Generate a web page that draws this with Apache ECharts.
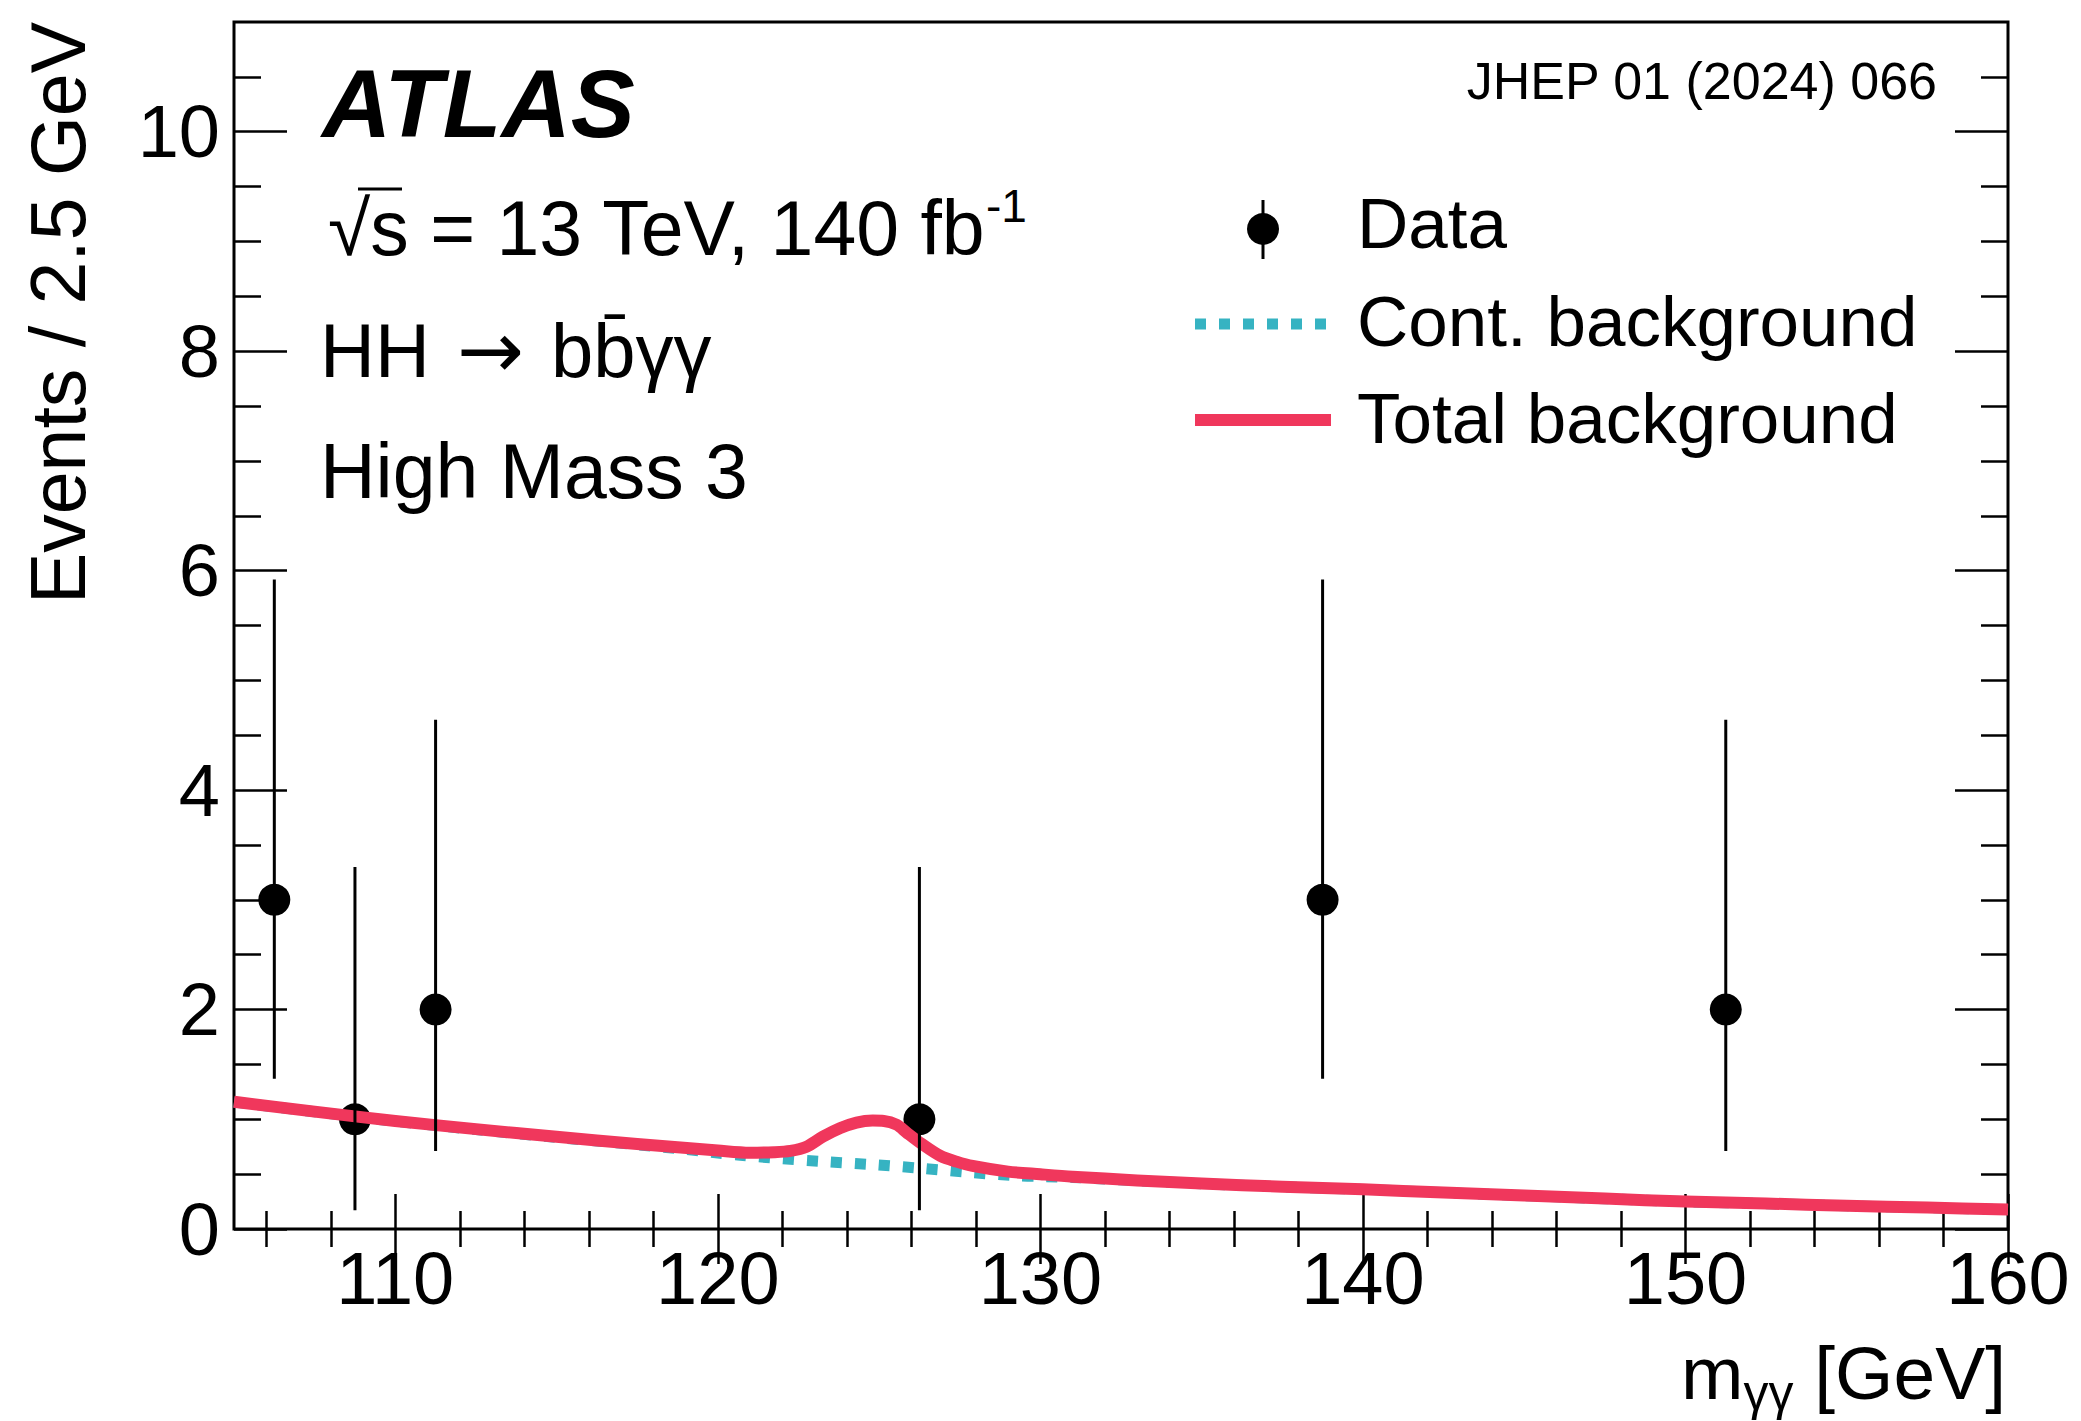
<!DOCTYPE html>
<html><head><meta charset="utf-8">
<script src="https://cdn.jsdelivr.net/npm/echarts@6/dist/echarts.min.js"></script>
<style>html,body{margin:0;padding:0;background:#fff}#c{width:2081px;height:1421px}</style>
</head><body><div id="c"></div>
<script>
// ---- data ----
const massBins   = [106.25, 108.75, 111.25, 126.25, 138.75, 151.25];
const dataEvents = [3, 1, 2, 1, 3, 2];
const errLow     = [1.37, 0.17, 0.71, 0.17, 1.37, 0.71];
const errHigh    = [5.92, 3.30, 4.64, 3.30, 5.92, 4.64];

const totalX = [105, 107.5, 110, 112.5, 115, 117.5, 120, 121, 121.75, 122.25, 122.75, 123.25, 123.8, 124.3, 124.8, 125.15, 125.55, 125.85, 126.3, 126.9, 127.4, 127.9, 129, 130, 131, 133, 135, 137.5, 140, 142.5, 145, 147.5, 150, 152.5, 155, 157.5, 160];
const totalY = [1.16, 1.07, 0.985, 0.91, 0.84, 0.775, 0.715, 0.695, 0.70, 0.712, 0.75, 0.84, 0.92, 0.97, 0.988, 0.985, 0.95, 0.88, 0.78, 0.666, 0.614, 0.575, 0.523, 0.499, 0.477, 0.443, 0.415, 0.385, 0.362, 0.332, 0.305, 0.277, 0.25, 0.232, 0.212, 0.195, 0.178];

const contX = [105, 107.5, 110, 112.5, 115, 117.5, 119, 120, 120.7, 122, 123.4, 124.9, 126.3, 127.7, 129.2, 130, 131, 133, 135, 137.5, 140, 142.5, 145, 147.5, 150, 152.5, 155, 157.5, 160];
const contY = [1.158, 1.068, 0.982, 0.906, 0.835, 0.768, 0.725, 0.693, 0.672, 0.64, 0.612, 0.585, 0.553, 0.518, 0.486, 0.478, 0.47, 0.44, 0.413, 0.384, 0.361, 0.331, 0.304, 0.276, 0.249, 0.231, 0.211, 0.194, 0.177];

const xMajorTicks = [110, 120, 130, 140, 150, 160];
const xMinorTicks = [106, 108, 112, 114, 116, 118, 122, 124, 126, 128, 132, 134, 136, 138, 142, 144, 146, 148, 152, 154, 156, 158];
const yMajorTicks = [0, 2, 4, 6, 8, 10];
const yMinorTicks = [0.5, 1, 1.5, 2.5, 3, 3.5, 4.5, 5, 5.5, 6.5, 7, 7.5, 8.5, 9, 9.5, 10.5];

// ---- style ----
const FONT = '"Liberation Sans", Arial, Helvetica, sans-serif';
const RED = '#f0375c';
const CYAN = '#36b3c2';

function xAx(pos, values, len, labels) {
  return {
    type: 'value', gridIndex: 0, min: 105, max: 160, position: pos,
    axisLine: { show: false }, splitLine: { show: false },
    axisTick: { show: true, inside: true, length: len, customValues: values, lineStyle: { color: '#000', width: 2.5 } },
    axisLabel: labels ? { show: true, customValues: values, fontSize: 74, fontFamily: FONT, color: '#000', margin: 12 } : { show: false }
  };
}
function yAx(pos, values, len, labels) {
  return {
    type: 'value', gridIndex: 0, min: 0, max: 11, position: pos,
    axisLine: { show: false }, splitLine: { show: false },
    axisTick: { show: true, inside: true, length: len, customValues: values, lineStyle: { color: '#000', width: 2.5 } },
    axisLabel: labels ? { show: true, customValues: values, fontSize: 74, fontFamily: FONT, color: '#000', margin: 14 } : { show: false }
  };
}

const chart = echarts.init(document.getElementById('c'), null, { renderer: 'svg' });

const option = {
  animation: false,
  backgroundColor: '#fff',
  grid: { left: 234, right: 73, top: 22, bottom: 192, show: true, borderColor: '#000', borderWidth: 3, backgroundColor: 'transparent' },
  xAxis: [
    xAx('bottom', xMajorTicks, 35, true),
    xAx('bottom', xMinorTicks, 18, false),
    xAx('top', xMajorTicks, 35, false),
    xAx('top', xMinorTicks, 18, false)
  ],
  yAxis: [
    yAx('left', yMajorTicks, 53, true),
    yAx('left', yMinorTicks, 27, false),
    yAx('right', yMajorTicks, 53, false),
    yAx('right', yMinorTicks, 27, false)
  ],
  series: [
    {
      type: 'line', name: 'Cont. background', xAxisIndex: 0, yAxisIndex: 0,
      data: contX.map((x, i) => [x, contY[i]]),
      smooth: 0.3, symbol: 'none', silent: true, z: 2,
      lineStyle: { color: CYAN, width: 11, type: [11, 13], cap: 'butt' }
    },
    {
      type: 'scatter', name: 'Data', xAxisIndex: 0, yAxisIndex: 0,
      data: massBins.map((x, i) => [x, dataEvents[i]]),
      symbol: 'circle', symbolSize: 32, itemStyle: { color: '#000', opacity: 1 }, z: 3, silent: true
    },
    {
      type: 'line', name: 'Total background', xAxisIndex: 0, yAxisIndex: 0,
      data: totalX.map((x, i) => [x, totalY[i]]),
      smooth: 0.3, symbol: 'none', silent: true, z: 4,
      lineStyle: { color: RED, width: 12, cap: 'butt', join: 'round' }
    },
    {
      type: 'custom', name: 'Data errors', xAxisIndex: 0, yAxisIndex: 0,
      data: massBins.map((x, i) => [x, errLow[i], errHigh[i]]),
      encode: { x: 0, y: [1, 2] }, z: 5, silent: true,
      renderItem: function (params, api) {
        const p1 = api.coord([api.value(0), api.value(1)]);
        const p2 = api.coord([api.value(0), api.value(2)]);
        return { type: 'line', shape: { x1: p1[0], y1: p1[1], x2: p2[0], y2: p2[1] }, style: { stroke: '#000', lineWidth: 3 } };
      }
    }
  ],
  graphic: [
    // axis titles
    { type: 'text', x: 58, y: 22, rotation: Math.PI / 2, z: 100,
      style: { text: 'Events / 2.5 GeV', font: '77px ' + FONT, fill: '#000', align: 'right', verticalAlign: 'middle', textAlign: 'right', textVerticalAlign: 'middle' } },
    { type: 'text', x: 2006, y: 1373, z: 100,
      style: { text: '{m|m}{s|γγ}{m| [GeV]}', fill: '#000', align: 'right', verticalAlign: 'middle', textAlign: 'right', textVerticalAlign: 'middle',
        rich: { m: { font: '75px ' + FONT, lineHeight: 90, fill: '#000' }, s: { font: '50px ' + FONT, lineHeight: 50, verticalAlign: 'bottom', fill: '#000' } } } },
    // labels
    { type: 'text', x: 322, y: 103, z: 100,
      style: { text: 'ATLAS', font: 'italic bold 96px ' + FONT, fill: '#000', align: 'left', verticalAlign: 'middle', textAlign: 'left', textVerticalAlign: 'middle' } },
    { type: 'text', x: 1937, y: 81, z: 100,
      style: { text: 'JHEP 01 (2024) 066', font: '52px ' + FONT, fill: '#000', align: 'right', verticalAlign: 'middle', textAlign: 'right', textVerticalAlign: 'middle' } },
    { type: 'text', x: 328, y: 228, z: 100,
      style: { text: '{m|√s = 13 TeV, 140 fb}{p|-1}', fill: '#000', align: 'left', verticalAlign: 'middle', textAlign: 'left', textVerticalAlign: 'middle',
        rich: { m: { font: '77px ' + FONT, lineHeight: 90, fill: '#000' }, p: { font: '46px ' + FONT, lineHeight: 46, verticalAlign: 'top', fill: '#000' } } } },
    { type: 'line', z: 100, shape: { x1: 358, y1: 189, x2: 402, y2: 189 }, style: { stroke: '#000', lineWidth: 3 } },
    { type: 'text', x: 320, y: 350, z: 100,
      style: { text: '{a|HH }{r|→}{a| bb\u0304γγ}', fill: '#000', align: 'left', verticalAlign: 'middle', textAlign: 'left', textVerticalAlign: 'middle',
        rich: { a: { font: '76px ' + FONT, lineHeight: 90, fill: '#000' }, r: { font: '80px "DejaVu Sans", sans-serif', lineHeight: 90, padding: [0, 6, 0, 6], fill: '#000' } } } },
    { type: 'text', x: 320, y: 471, z: 100,
      style: { text: 'High Mass 3', font: '77px ' + FONT, fill: '#000', align: 'left', verticalAlign: 'middle', textAlign: 'left', textVerticalAlign: 'middle' } },
    // legend
    { type: 'line', z: 100, shape: { x1: 1263, y1: 200, x2: 1263, y2: 259 }, style: { stroke: '#000', lineWidth: 3 } },
    { type: 'circle', z: 100, shape: { cx: 1263, cy: 229, r: 16 }, style: { fill: '#000' } },
    { type: 'line', z: 100, shape: { x1: 1195, y1: 324, x2: 1327, y2: 324 }, style: { stroke: CYAN, lineWidth: 11, lineDash: [11, 13], lineCap: 'butt' } },
    { type: 'line', z: 100, shape: { x1: 1195, y1: 420, x2: 1331, y2: 420 }, style: { stroke: RED, lineWidth: 12 } },
    { type: 'text', x: 1357, y: 223, z: 100,
      style: { text: 'Data', font: '71px ' + FONT, fill: '#000', align: 'left', verticalAlign: 'middle', textAlign: 'left', textVerticalAlign: 'middle' } },
    { type: 'text', x: 1357, y: 321, z: 100,
      style: { text: 'Cont. background', font: '71px ' + FONT, fill: '#000', align: 'left', verticalAlign: 'middle', textAlign: 'left', textVerticalAlign: 'middle' } },
    { type: 'text', x: 1357, y: 418, z: 100,
      style: { text: 'Total background', font: '71px ' + FONT, fill: '#000', align: 'left', verticalAlign: 'middle', textAlign: 'left', textVerticalAlign: 'middle' } }
  ]
};
chart.setOption(option);
</script></body></html>
